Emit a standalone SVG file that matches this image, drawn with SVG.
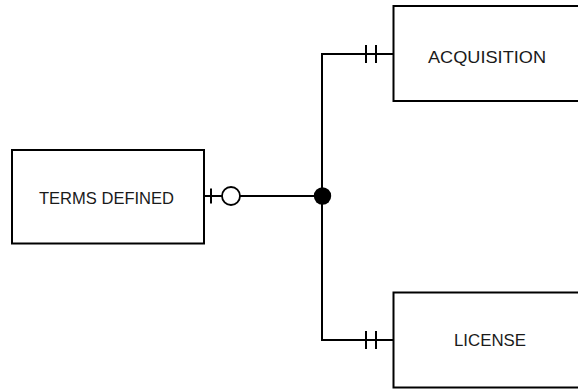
<svg xmlns="http://www.w3.org/2000/svg" width="578" height="389" viewBox="0 0 578 389">
<style>
.box{fill:#fff;stroke:#000;stroke-width:2}
.lbl{font-family:"Liberation Sans",Arial,sans-serif;font-size:17px;fill:#1a1a1a;text-anchor:middle}
.ln{fill:none;stroke:#000;stroke-width:2}
</style>
<rect width="578" height="389" fill="#fff"/>
<g id="connectors">
<polyline class="ln" points="393,54 322,54 322,340 393,340"/>
<line class="ln" x1="204" y1="196" x2="222" y2="196"/>
<line class="ln" x1="240" y1="196" x2="322" y2="196"/>
<line class="ln" x1="211" y1="188.5" x2="211" y2="203.5"/>
<circle cx="231" cy="196" r="9" fill="#fff" stroke="#000" stroke-width="1.8"/>
<circle cx="322.5" cy="196" r="8.7" fill="#000"/>
<line class="ln" x1="366" y1="45" x2="366" y2="63"/>
<line class="ln" x1="376" y1="45" x2="376" y2="63"/>
<line class="ln" x1="366" y1="331" x2="366" y2="349"/>
<line class="ln" x1="376" y1="331" x2="376" y2="349"/>
</g>
<g id="terms-defined">
<rect class="box" x="12" y="150" width="192" height="93.5"/>
<text class="lbl" x="106.5" y="204" textLength="135" lengthAdjust="spacingAndGlyphs">TERMS DEFINED</text>
</g>
<g id="acquisition">
<rect class="box" x="393.5" y="6" width="192" height="95"/>
<text class="lbl" x="487" y="63" textLength="118" lengthAdjust="spacingAndGlyphs">ACQUISITION</text>
</g>
<g id="license">
<rect class="box" x="393.5" y="292.5" width="192" height="95"/>
<text class="lbl" x="490" y="346" textLength="72" lengthAdjust="spacingAndGlyphs">LICENSE</text>
</g>
</svg>
